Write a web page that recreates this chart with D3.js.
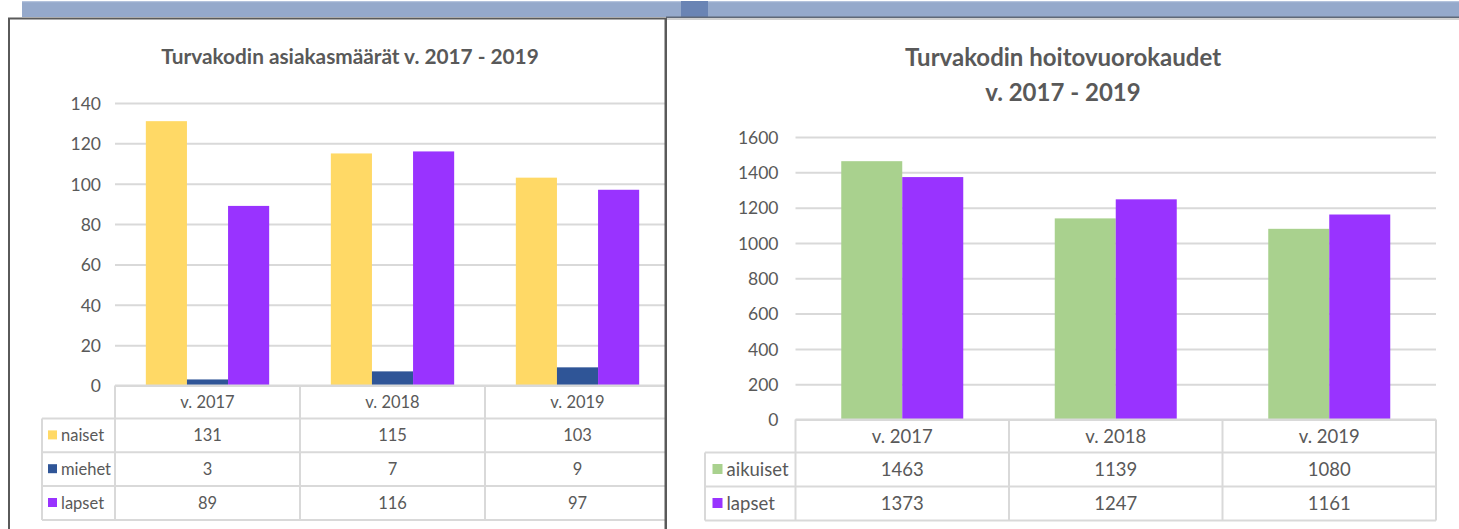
<!DOCTYPE html>
<html>
<head>
<meta charset="utf-8">
<script src="https://cdn.jsdelivr.net/npm/d3@7"></script>
<style>
  html, body { margin: 0; padding: 0; background: #ffffff; }
  svg { display: block; }
  text { font-family: Lato, "Open Sans", sans-serif; fill: #595959; }
</style>
</head>
<body>
<svg id="chart" width="1459" height="529"></svg>
<script>
// ---------- DATA ----------
const categories = ["v. 2017", "v. 2018", "v. 2019"];

// Chart 1: Turvakodin asiakasmäärät
const title1 = ["Turvakodin asiakasmäärät v. 2017 - 2019"];
const series1Names = ["naiset", "miehet", "lapset"];
const naiset = [131, 115, 103];
const miehet = [3, 7, 9];
const lapset1 = [89, 116, 97];
const ticks1 = [0, 20, 40, 60, 80, 100, 120, 140];

// Chart 2: Turvakodin hoitovuorokaudet
const title2 = ["Turvakodin hoitovuorokaudet", "v. 2017 - 2019"];
const series2Names = ["aikuiset", "lapset"];
const aikuiset = [1463, 1139, 1080];
const lapset2 = [1373, 1247, 1161];
const ticks2 = [0, 200, 400, 600, 800, 1000, 1200, 1400, 1600];

const colors1 = ["#FFD966", "#2F5597", "#9933FF"];
const colors2 = ["#A9D18E", "#9933FF"];

// ---------- DRAW ----------
const svg = d3.select("#chart");
const gridColor = "#D9D9D9";

// top ribbon
svg.append("rect").attr("x", 22).attr("y", 1).attr("width", 1437).attr("height", 16).attr("fill", "#95A9CB");
svg.append("rect").attr("x", 22).attr("y", 1).attr("width", 1437).attr("height", 1.2).attr("fill", "#B4C3DD");
svg.append("rect").attr("x", 681).attr("y", 1).attr("width", 27).attr("height", 16).attr("fill", "#6A84B4");
svg.append("rect").attr("x", 666).attr("y", 16.5).attr("width", 793).attr("height", 1.5).attr("fill", "#5F6877");
svg.append("rect").attr("x", 666).attr("y", 18).attr("width", 793).attr("height", 2).attr("fill", "#D0D0D0");

function drawChart(cfg) {
  const g = svg.append("g");
  const x = d3.scaleBand().domain(cfg.categories).range([cfg.x0, cfg.x1]).paddingInner(0).paddingOuter(0);
  const y = d3.scaleLinear().domain([0, d3.max(cfg.ticks)]).range([cfg.yBase, cfg.yTop]);
  const nS = cfg.series.length;
  const bw = x.bandwidth() / (nS + 1.5);
  const xs = d3.scaleBand().domain(d3.range(nS)).range([0.75 * bw, 0.75 * bw + nS * bw]);

  const clip = g.append("g").attr("clip-path", cfg.clip ? `url(#${cfg.clip})` : null);

  // gridlines
  const yAxis = d3.axisLeft(y).tickValues(cfg.ticks).tickSize(-(cfg.x1 - cfg.x0)).tickPadding(cfg.tickPad).tickFormat(d3.format("d"));
  const ax = clip.append("g").attr("transform", `translate(${cfg.x0},0)`).call(yAxis);
  ax.select(".domain").remove();
  ax.selectAll(".tick line").attr("stroke", gridColor).attr("stroke-width", 2);
  ax.selectAll(".tick text").attr("font-size", cfg.tickFont).attr("fill", "#595959")
    .attr("font-family", "Lato, sans-serif").attr("dy", "0.36em");

  // bars
  cfg.series.forEach((s, si) => {
    clip.append("g").selectAll("rect").data(s.values).join("rect")
      .attr("x", (d, i) => x(cfg.categories[i]) + xs(si))
      .attr("y", d => y(d))
      .attr("width", xs.bandwidth())
      .attr("height", d => y(0) - y(d))
      .attr("fill", s.color);
  });

  // data table
  const rowH = cfg.rowH;
  const tTop = cfg.yBase;
  const hdrBot = cfg.hdrBot;
  const nRows = nS;
  const tBot = hdrBot + nRows * rowH;
  const lines = clip.append("g").attr("stroke", gridColor).attr("stroke-width", 2).attr("fill", "none");
  lines.append("line").attr("x1", cfg.x0).attr("x2", cfg.x1).attr("y1", tTop).attr("y2", tTop);
  const edges = cfg.categories.map(c => x(c)).concat([cfg.x1]);
  edges.forEach(e => lines.append("line").attr("x1", e).attr("x2", e).attr("y1", tTop).attr("y2", tBot));
  lines.append("line").attr("x1", cfg.legX).attr("x2", cfg.legX).attr("y1", hdrBot).attr("y2", tBot);
  for (let r = 0; r <= nRows; r++) {
    const yy = hdrBot + r * rowH;
    lines.append("line").attr("x1", cfg.legX).attr("x2", cfg.x1).attr("y1", yy).attr("y2", yy);
  }
  clip.append("g").selectAll("text").data(cfg.categories).join("text")
    .attr("x", c => x(c) + x.bandwidth() / 2)
    .attr("y", (tTop + hdrBot) / 2)
    .attr("dy", "0.36em").attr("text-anchor", "middle").attr("font-size", cfg.tableFont)
    .text(c => c);
  cfg.series.forEach((s, si) => {
    const cy = hdrBot + si * rowH + rowH / 2;
    clip.append("rect").attr("x", cfg.legX + cfg.swOff).attr("y", cy - cfg.sw / 2 - 0.5)
      .attr("width", cfg.sw).attr("height", cfg.sw).attr("fill", s.color);
    clip.append("text").attr("x", cfg.legX + cfg.swOff + cfg.sw + 4).attr("y", cy).attr("dy", "0.36em")
      .attr("font-size", cfg.tableFont).text(s.name);
    clip.append("g").selectAll("text").data(s.values).join("text")
      .attr("x", (d, i) => x(cfg.categories[i]) + x.bandwidth() / 2)
      .attr("y", cy).attr("dy", "0.36em").attr("text-anchor", "middle")
      .attr("font-size", cfg.tableFont).text(d => d);
  });

  cfg.title.forEach((t, i) => {
    g.append("text").attr("x", cfg.titleX).attr("y", cfg.titleY + i * cfg.titleLH)
      .attr("dy", "0.36em").attr("text-anchor", "middle").attr("font-weight", "bold")
      .attr("font-size", cfg.titleFont).text(t);
  });
}

const defs = svg.append("defs");
defs.append("clipPath").attr("id", "clipL").append("rect").attr("x", 9).attr("y", 19).attr("width", 656).attr("height", 520);
defs.append("clipPath").attr("id", "clipR").append("rect").attr("x", 667).attr("y", 20).attr("width", 792).attr("height", 520);

drawChart({
  categories: categories,
  series: [
    { name: series1Names[0], values: naiset, color: colors1[0] },
    { name: series1Names[1], values: miehet, color: colors1[1] },
    { name: series1Names[2], values: lapset1, color: colors1[2] }
  ],
  ticks: ticks1,
  x0: 115, x1: 670, yBase: 385.5, yTop: 103,
  tickPad: 14, tickFont: "17.5px", tableFont: "16.5px",
  hdrBot: 418.5, rowH: 33.8, legX: 42, swOff: 6, sw: 9,
  title: title1, titleX: 350, titleY: 57, titleLH: 0, titleFont: "20.8px",
  clip: "clipL"
});

drawChart({
  categories: categories,
  series: [
    { name: series2Names[0], values: aikuiset, color: colors2[0] },
    { name: series2Names[1], values: lapset2, color: colors2[1] }
  ],
  ticks: ticks2,
  x0: 795.5, x1: 1436, yBase: 419.5, yTop: 137,
  tickPad: 17, tickFont: "17.5px", tableFont: "18.5px",
  hdrBot: 452.5, rowH: 34, legX: 705, swOff: 7.5, sw: 10,
  title: title2, titleX: 1063, titleY: 57, titleLH: 35.5, titleFont: "24px",
  clip: "clipR"
});

svg.append("path").attr("d", "M9,540 L9,18.5 L665.5,18.5 L665.5,540")
  .attr("fill", "none").attr("stroke", "#5A5A5A").attr("stroke-width", 2);
svg.append("rect").attr("x", 665).attr("y", 18).attr("width", 2).attr("height", 520).attr("fill", "#5A5A5A");
</script>
</body>
</html>
